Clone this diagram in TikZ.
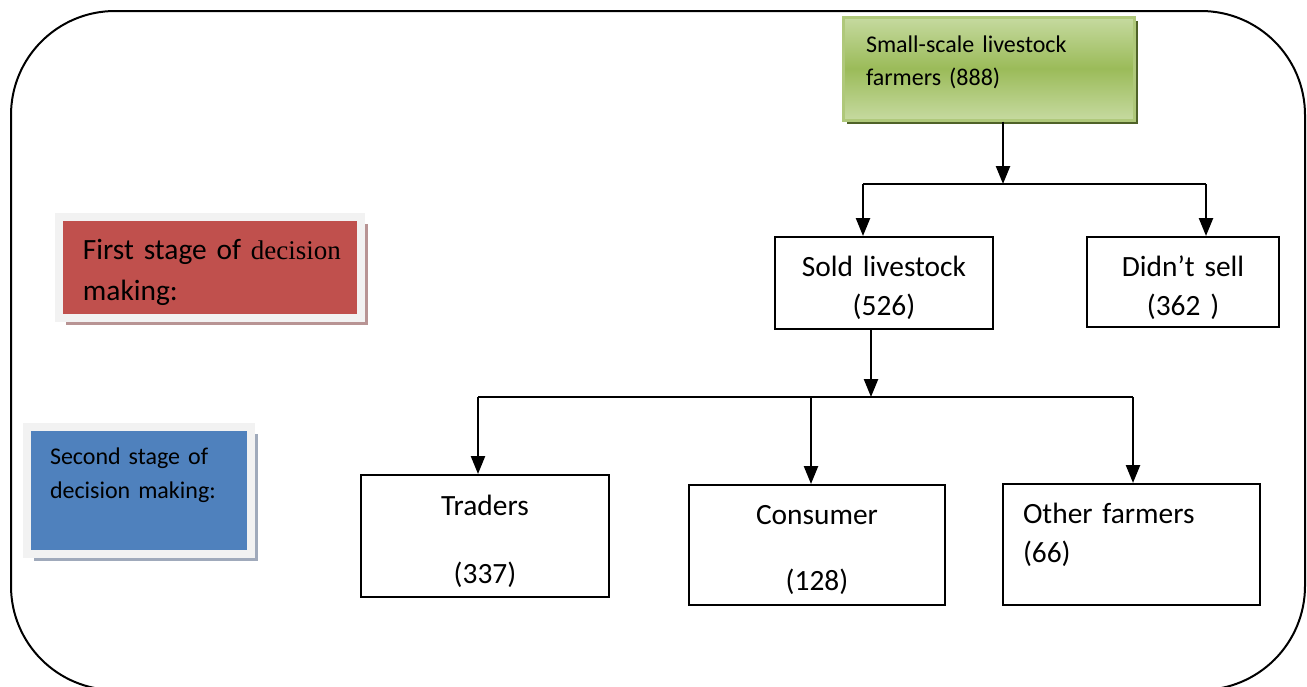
\documentclass[tikz,border=0pt]{standalone}
\usepackage{fontspec}
\setmainfont{Carlito}
\newfontfamily\cambriaword{Liberation Serif}
\usetikzlibrary{arrows.meta,shadows}

\definecolor{farmgreen}{HTML}{9BBB59}
\definecolor{farmlight}{HTML}{C6DAA0}
\definecolor{farmedge}{HTML}{AFC87A}
\definecolor{farmshadow}{HTML}{4F6228}
\definecolor{stagered}{HTML}{C0504D}
\definecolor{stageblue}{HTML}{4F81BD}
\definecolor{stageframe}{HTML}{F2F2F2}
\definecolor{redshadow}{HTML}{B89494}
\definecolor{blueshadow}{HTML}{A0AABB}

\begin{document}
\begin{tikzpicture}[x=0.5pt,y=-0.5pt,>={Triangle[width=7pt,length=9pt]},
  box/.style={rectangle,draw=black,line width=1pt,inner ysep=0pt,inner xsep=0pt,align=center,
    font={\fontsize{14.7pt}{19.5pt}\selectfont}},
  stage/.style={rectangle,draw=stageframe,line width=4pt,inner ysep=0pt,align=left},
  flow/.style={->,line width=1.2pt},
  branch/.style={line width=1.1pt},
  frame/.style={line width=1pt,rounded corners=52pt}]
\useasboundingbox (0,0) rectangle (1307,686);
\draw[frame] (11,11) rectangle (1305,690);
% the two stages
\node[stage,fill=stagered,drop shadow={shadow xshift=3.5pt,shadow yshift=-3.5pt,fill=redshadow,opacity=1},
  text width=127pt,inner xsep=12pt,text height=21pt,text depth=29.5pt,
  font={\fontsize{14.7pt}{20.5pt}\selectfont}] (first) at (210,267.5)
  {\mbox{First stage of {\cambriaword\fontsize{13.5pt}{20.5pt}\selectfont decision}}\\making:};
\node[stage,fill=stageblue,drop shadow={shadow xshift=3.5pt,shadow yshift=-3.5pt,fill=blueshadow,opacity=1},
  text width=88.75pt,inner xsep=11.5pt,text height=18.5pt,text depth=45pt,
  font={\fontsize{12pt}{17pt}\selectfont}] (second) at (138.75,490.5)
  {Second stage of\\decision making:};
% tree
\node[rectangle,draw=farmedge,line width=1.5pt,top color=farmlight,bottom color=farmlight,middle color=farmgreen,
  drop shadow={shadow xshift=2pt,shadow yshift=-2pt,fill=farmshadow,opacity=1},
  text width=122.5pt,inner xsep=11.5pt,inner ysep=0pt,text height=17.5pt,text depth=34pt,align=left,
  font={\fontsize{12pt}{16.5pt}\selectfont}] (farmers) at (988.5,68.5) {Small-scale livestock\\farmers (888)};
\node[box,text width=109pt,text height=19.5pt,text depth=26.5pt] (sold) at (884,283) {Sold livestock\\(526)};
\node[box,text width=96pt,text height=19.5pt,text depth=25.5pt] (didnt) at (1183,282) {Didn’t sell\\(362 )};
\node[box,text width=124pt,text height=20pt,text depth=41pt] (traders) at (485,536) {Traders\\[14.5pt](337)};
\node[box,text width=128pt,text height=19.5pt,text depth=40.5pt] (consumer) at (817,545) {Consumer\\[13.5pt](128)};
\node[box,text width=108.5pt,inner xsep=10pt,text height=19.5pt,text depth=41pt,align=left] (other) at (1131.5,544.5)
  {Other farmers\\(66)};
\coordinate (split1) at (1003,184);
\coordinate (left1) at (863,184);
\coordinate (right1) at (1206,184);
\draw[flow] (farmers.south -| split1) -- (split1);
\draw[branch] (left1) -- (right1);
\draw[flow] (left1) -- (left1 |- sold.north);
\draw[flow] (right1) -- (right1 |- didnt.north);
\coordinate (split2) at (871,397);
\coordinate (left2) at (478,397);
\coordinate (mid2) at (811,397);
\coordinate (right2) at (1133,397);
\draw[flow] (sold.south -| split2) -- (split2);
\draw[branch] (left2) -- (right2);
\draw[flow] (left2) -- (left2 |- traders.north);
\draw[flow] (mid2) -- (mid2 |- consumer.north);
\draw[flow] (right2) -- (right2 |- other.north);
\end{tikzpicture}
\end{document}
